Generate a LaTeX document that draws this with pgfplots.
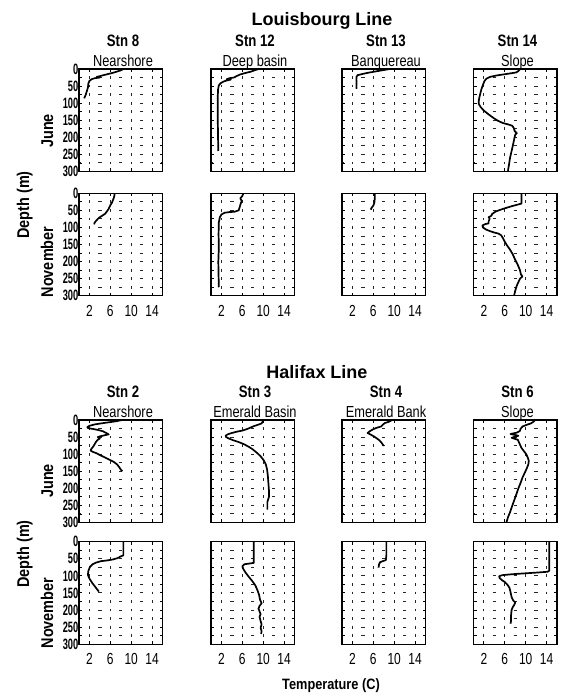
\documentclass[border=0pt]{standalone}
\usepackage{pgfplots}
\pgfplotsset{compat=1.18}
\usepackage{fontspec}
\setmainfont{Liberation Sans}
\newfontfamily\fStn[FakeStretch=0.8]{Liberation Sans}
\newfontfamily\fXt[FakeStretch=0.75]{Liberation Sans}
\newfontfamily\fYt[FakeStretch=0.62]{Liberation Sans}
\newfontfamily\fLab[FakeStretch=0.85]{Liberation Sans}
\newcommand\xtf{\fXt\fontsize{16}{16}\selectfont}
\newcommand\ytf{\fYt\bfseries\fontsize{15}{15}\selectfont}
\newcommand\stnf{\fStn\bfseries\fontsize{16.5}{16.5}\selectfont}
\newcommand\subf{\fStn\fontsize{16}{16}\selectfont}
\newcommand\labf{\fLab\bfseries\fontsize{17}{17}\selectfont}
\newcommand\ttlf{\bfseries\fontsize{18}{18}\selectfont}
\newcommand\tempf{\fLab\bfseries\fontsize{15}{15}\selectfont}
\pgfplotsset{
  panel/.style={
    scale only axis, width=83.5pt, height=102.5pt,
    anchor=north west,
    xmin=0, xmax=16, ymin=0, ymax=300, y dir=reverse,
    xtick={2,6,10,14}, ytick={0,50,...,300}, minor ytick={25,75,...,275},
    xticklabels={}, yticklabels={},
    /pgf/number format/assume math mode=true,
    tick align=inside, major tick length=3pt, minor tick length=3pt,
    every tick/.style={black, line width=0.9pt},
    axis line style={black, line width=1.3pt},
    xmajorgrids, ymajorgrids, yminorgrids,
    x grid style={black!85, line width=1pt, dash pattern=on 2.8pt off 5.7417pt, dash phase=1.4pt},
    y grid style={black!85, line width=1pt, dash pattern=on 3.4pt off 17.475pt, dash phase=1.7pt},
  },
  ylab/.style={yticklabels={0,50,100,150,200,250,300},
    yticklabel style={font=\ytf, anchor=east, inner sep=0pt, xshift=-0.5pt}},
  xlab/.style={xticklabels={2,6,10,14},
    xticklabel style={font=\xtf, anchor=north, inner sep=0pt, yshift=-9pt}},
  prof/.style={black, line width=1.7pt, line join=round, mark=none},
}
\begin{document}
\begin{tikzpicture}
\path[use as bounding box] (0pt,0pt) rectangle (566pt,696pt);
% ---------------- Louisbourg line, June ----------------
\begin{axis}[panel, ylab, at={(79pt,627pt)}]
\addplot[prof] coordinates {(8.5,0)(8.0,4)(7.2,8)(6.3,12)(5.5,15)(4.7,18)(4.0,21)(3.4,23)(4.0,25)(3.0,27)(2.4,30)(2.0,35)(1.8,42)(1.7,55)(1.5,65)(1.3,75)(1.1,82)(1.0,86)};
\end{axis}
\begin{axis}[panel, at={(211pt,627pt)}]
\addplot[prof] coordinates {(9.2,0)(8.5,3)(7.6,8)(6.5,12)(5.6,16)(5.0,20)(4.4,25)(3.5,27)(3.0,30)(3.8,31)(3.2,33)(2.5,36)(1.8,42)(1.5,48)(1.35,60)(1.3,80)(1.3,100)(1.3,150)(1.35,200)(1.4,240)};
\end{axis}
\begin{axis}[panel, at={(342pt,627pt)}]
\addplot[prof] coordinates {(9.2,0)(8.0,3)(6.5,7)(5.0,11)(3.8,15)(3.0,18)(2.8,22)(2.75,30)(2.8,40)(2.75,50)(2.8,58)};
\end{axis}
\begin{axis}[panel, at={(473.5pt,627pt)}]
\addplot[prof] coordinates {(8.9,0)(8.6,6)(8.2,10)(7.0,13)(5.7,16)(4.4,19)(3.2,23)(2.5,28)(2.1,35)(1.8,47)(1.5,60)(1.3,72)(1.1,85)(1.0,95)(1.0,102)(1.4,112)(2.0,122)(2.9,133)(3.8,143)(4.6,151)(5.6,158)(6.6,162)(7.4,166)(7.7,172)(7.9,182)(8.3,188)(8.0,192)(7.8,205)(7.6,220)(7.3,240)(7.0,260)(6.8,280)(6.6,298)};
\end{axis}
% ---------------- Louisbourg line, November ----------------
\begin{axis}[panel, ylab, xlab, at={(79pt,502.7pt)}]
\addplot[prof] coordinates {(6.8,0)(6.8,5)(6.7,12)(6.5,20)(6.3,28)(6.0,35)(5.7,45)(5.4,52)(5.0,60)(4.4,66)(3.8,72)(3.3,80)(3.0,86)(2.9,91)};
\end{axis}
\begin{axis}[panel, xlab, at={(211pt,502.7pt)}]
\addplot[prof] coordinates {(6.2,0)(6.0,8)(5.6,15)(5.9,22)(5.7,30)(5.5,40)(5.3,50)(4.5,54)(3.5,55)(2.6,57)(2.0,62)(1.7,70)(1.5,85)(1.45,120)(1.5,160)(1.4,200)(1.45,240)(1.5,275)};
\end{axis}
\begin{axis}[panel, xlab, at={(342pt,502.7pt)}]
\addplot[prof] coordinates {(6.3,0)(6.3,10)(6.25,20)(6.2,28)(6.0,36)(5.7,42)(5.5,48)};
\end{axis}
\begin{axis}[panel, xlab, at={(473.5pt,502.7pt)}]
\addplot[prof] coordinates {(9.2,0)(9.2,15)(9.2,30)(8.5,33)(7.5,37)(6.4,42)(5.2,48)(4.3,53)(3.6,60)(3.4,66)(2.9,70)(3.1,75)(2.9,82)(2.9,88)(2.3,90)(1.7,94)(1.8,100)(2.4,106)(3.2,111)(4.0,115)(4.8,118)(5.3,123)(5.6,130)(6.0,142)(6.4,152)(7.0,165)(7.5,178)(8.0,195)(8.5,210)(8.9,225)(9.1,238)(9.4,243)(8.9,250)(8.6,260)(8.3,270)(8.0,285)(7.8,298)};
\end{axis}
% ---------------- Halifax line, June ----------------
\begin{axis}[panel, ylab, at={(79pt,276pt)}]
\addplot[prof] coordinates {(8.3,0)(7.0,4)(5.6,7)(4.2,10)(3.0,13)(2.0,17)(1.6,21)(1.8,24)(2.6,26)(3.6,29)(4.6,33)(5.2,38)(5.7,42)(4.8,45)(4.0,48)(3.6,50)(4.0,54)(3.6,58)(3.3,63)(3.1,68)(2.8,76)(2.4,84)(2.2,89)(2.6,93)(3.3,97)(4.2,104)(5.0,110)(5.8,116)(6.6,122)(7.3,130)(7.7,138)(8.0,145)(8.3,150)};
\end{axis}
\begin{axis}[panel, at={(211pt,276pt)}]
\addplot[prof] coordinates {(10.1,0)(9.9,5)(9.7,10)(9.0,14)(8.2,18)(7.6,22)(7.0,26)(6.0,31)(5.0,34)(4.0,38)(3.2,42)(2.8,46)(2.9,50)(3.4,54)(4.2,59)(5.2,64)(6.2,70)(7.2,78)(8.0,86)(8.8,96)(9.5,106)(10.1,118)(10.5,130)(10.75,145)(10.9,165)(11.0,185)(11.1,205)(11.1,225)(10.8,240)(10.8,262)};
\end{axis}
\begin{axis}[panel, at={(342pt,276pt)}]
\addplot[prof] coordinates {(9.6,0)(9.0,5)(8.2,9)(7.8,14)(7.5,19)(6.6,23)(6.0,27)(5.4,32)(4.9,38)(5.4,42)(6.0,47)(6.6,53)(7.2,60)(7.6,67)(8.0,76)};
\end{axis}
\begin{axis}[panel, at={(473.5pt,276pt)}]
\addplot[prof] coordinates {(11.8,0)(11.5,5)(11.0,10)(10.2,14)(9.4,19)(9.0,26)(8.9,32)(8.3,37)(7.1,41)(8.6,46)(7.3,52)(8.5,58)(8.7,65)(8.9,72)(9.2,82)(9.7,92)(10.1,100)(10.4,110)(10.6,120)(10.5,130)(10.2,142)(9.8,155)(9.4,168)(9.0,185)(8.6,200)(8.2,218)(7.8,235)(7.4,252)(7.0,270)(6.6,285)(6.3,300)};
\end{axis}
% ---------------- Halifax line, November ----------------
\begin{axis}[panel, ylab, xlab, at={(79pt,154.3pt)}]
\addplot[prof] coordinates {(8.5,0)(8.5,20)(8.5,40)(8.0,43)(7.4,48)(6.5,52)(5.3,55)(4.2,57)(3.3,61)(2.6,66)(2.1,74)(1.8,85)(1.7,97)(2.0,108)(2.5,120)(3.1,132)(3.5,140)(3.8,146)};
\end{axis}
\begin{axis}[panel, xlab, at={(211pt,154.3pt)}]
\addplot[prof] coordinates {(8.2,0)(8.2,20)(8.2,40)(8.2,62)(7.3,64)(6.4,66)(6.0,72)(6.2,80)(6.6,90)(7.2,102)(7.9,115)(8.5,128)(8.9,142)(9.2,155)(9.4,170)(9.7,180)(9.3,188)(9.1,196)(9.3,204)(9.5,212)(9.3,220)(9.5,232)(9.7,242)(9.5,252)(9.7,262)(9.6,270)};
\end{axis}
\begin{axis}[panel, xlab, at={(342pt,154.3pt)}]
\addplot[prof] coordinates {(8.5,0)(8.5,20)(8.5,40)(8.4,54)(7.8,57)(7.3,60)(7.1,66)(7.0,76)};
\end{axis}
\begin{axis}[panel, xlab, at={(473.5pt,154.3pt)}]
\addplot[prof] coordinates {(14.5,0)(14.5,20)(14.5,45)(14.5,70)(14.5,85)(14.2,88)(12.5,90)(10.5,92)(8.5,94)(6.8,96)(5.5,98)(4.9,101)(5.0,106)(5.4,112)(6.0,118)(6.5,126)(6.9,135)(7.1,148)(7.3,162)(7.6,172)(8.0,178)(7.8,185)(7.5,192)(7.3,200)(7.2,215)(7.2,230)(7.1,240)};
\end{axis}
% ---------------- Titles and labels ----------------
\node[anchor=base, inner sep=0pt] at (322pt,670pt) {\ttlf Louisbourg Line};
\node[anchor=base, inner sep=0pt] at (317pt,317pt) {\ttlf Halifax Line};
% station labels Louisbourg
\node[anchor=base, inner sep=0pt] at (123pt,649pt) {\stnf Stn 8};
\node[anchor=base, inner sep=0pt] at (255pt,649pt) {\stnf Stn 12};
\node[anchor=base, inner sep=0pt] at (386pt,649pt) {\stnf Stn 13};
\node[anchor=base, inner sep=0pt] at (517.5pt,649pt) {\stnf Stn 14};
\node[anchor=base, inner sep=0pt] at (123pt,629.3pt) {\subf Nearshore};
\node[anchor=base, inner sep=0pt] at (255pt,629.3pt) {\subf Deep basin};
\node[anchor=base, inner sep=0pt] at (386pt,629.3pt) {\subf Banquereau};
\node[anchor=base, inner sep=0pt] at (517.5pt,629.3pt) {\subf Slope};
% station labels Halifax
\node[anchor=base, inner sep=0pt] at (123pt,298pt) {\stnf Stn 2};
\node[anchor=base, inner sep=0pt] at (255pt,298pt) {\stnf Stn 3};
\node[anchor=base, inner sep=0pt] at (386pt,298pt) {\stnf Stn 4};
\node[anchor=base, inner sep=0pt] at (517.5pt,298pt) {\stnf Stn 6};
\node[anchor=base, inner sep=0pt] at (123pt,278pt) {\subf Nearshore};
\node[anchor=base, inner sep=0pt] at (255pt,278pt) {\subf Emerald Basin};
\node[anchor=base, inner sep=0pt] at (386pt,278pt) {\subf Emerald Bank};
\node[anchor=base, inner sep=0pt] at (517.5pt,278pt) {\subf Slope};
% month and depth labels
\node[anchor=base, rotate=90, inner sep=0pt] at (53pt,565pt) {\labf June};
\node[anchor=base, rotate=90, inner sep=0pt] at (53pt,434pt) {\labf November};
\node[anchor=base, rotate=90, inner sep=0pt] at (29pt,491pt) {\labf Depth (m)};
\node[anchor=base, rotate=90, inner sep=0pt] at (53pt,215pt) {\labf June};
\node[anchor=base, rotate=90, inner sep=0pt] at (53pt,83pt) {\labf November};
\node[anchor=base, rotate=90, inner sep=0pt] at (29pt,142pt) {\labf Depth (m)};
\node[anchor=base, inner sep=0pt] at (331pt,6pt) {\tempf Temperature (C)};
\end{tikzpicture}
\end{document}
